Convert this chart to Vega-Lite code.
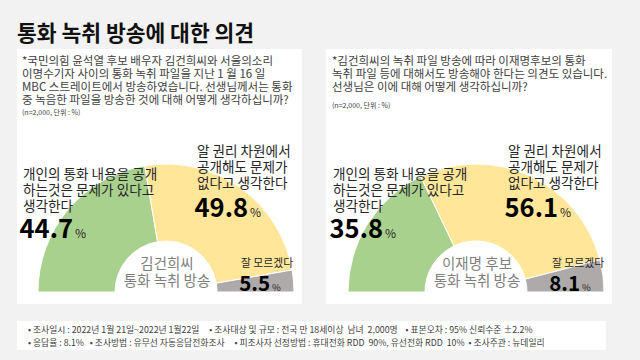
{
  "$schema": "https://vega.github.io/schema/vega-lite/v6.json",
  "background": "#f2f2f2",
  "padding": {"left": 17, "right": 28, "top": 23, "bottom": 14},
  "title": {"text": "통화 녹취 방송에 대한 의견", "anchor": "start", "font": "Noto Sans CJK KR", "fontSize": 21.5, "fontWeight": "bold", "color": "#111111", "offset": -13, "baseline": "alphabetic"},
  "datasets": {
    "results": [
      {"panel": "A", "ord": 1, "cat": "문제 있다", "value": 44.7, "label": "개인의 통화 내용을 공개\n하는것은 문제가 있다고\n생각한다"},
      {"panel": "A", "ord": 2, "cat": "문제 없다", "value": 49.8, "label": "알 권리 차원에서\n공개해도 문제가\n없다고 생각한다"},
      {"panel": "A", "ord": 3, "cat": "잘 모르겠다", "value": 5.5, "label": "잘 모르겠다"},
      {"panel": "B", "ord": 1, "cat": "문제 있다", "value": 35.8, "label": "개인의 통화 내용을 공개\n하는것은 문제가 있다고\n생각한다"},
      {"panel": "B", "ord": 2, "cat": "문제 없다", "value": 56.1, "label": "알 권리 차원에서\n공개해도 문제가\n없다고 생각한다"},
      {"panel": "B", "ord": 3, "cat": "잘 모르겠다", "value": 8.1, "label": "잘 모르겠다"}
    ],
    "questions": [
      {"panel": "A", "question": "*국민의힘 윤석열 후보 배우자 김건희씨와 서울의소리\n이명수기자 사이의 통화 녹취 파일을 지난 1 월 16 일\nMBC 스트레이트에서 방송하였습니다. 선생님께서는 통화\n중 녹음한 파일을 방송한 것에 대해 어떻게 생각하십니까?", "note": "(n=2,000, 단위 : %)", "center": "김건희씨\n통화 녹취 방송"},
      {"panel": "B", "question": "*김건희씨의 녹취 파일 방송에 따라 이재명후보의 통화\n녹취 파일 등에 대해서도 방송해야 한다는 의견도 있습니다.\n선생님은 이에 대해 어떻게 생각하십니까?", "note": "(n=2,000, 단위 : %)", "center": "이재명 후보\n통화 녹취 방송"}
    ],
    "footer": [
      {"line": 1, "text": "• 조사일시 : 2022년 1월 21일~2022년 1월22일\u00a0\u00a0\u00a0\u00a0 • 조사대상 및 규모 : 전국 만 18세이상\u00a0 남녀\u00a0 2,000명\u00a0\u00a0\u00a0 • 표본오차 : 95% 신뢰수준 ±2.2%"},
      {"line": 2, "text": "• 응답율 : 8.1%\u00a0\u00a0 • 조사방법 : 유무선 자동응답전화조사\u00a0\u00a0\u00a0\u00a0 • 피조사자 선정방법 : 휴대전화 RDD\u00a0 90%, 유선전화 RDD\u00a0 10%\u00a0 • 조사주관 : 뉴데일리"}
    ]
  },
  "vconcat": [
    {
      "hconcat": [
        {
          "width": 285, "height": 255,
          "layer": [
            {"data": {"name": "questions"}, "transform": [{"filter": "datum.panel === 'A'"}],
             "mark": {"type": "text", "align": "left", "baseline": "alphabetic", "lineBreak": "\n", "lineHeight": 12.9, "font": "Noto Sans CJK KR", "fontSize": 11.5, "color": "#404040"},
             "encoding": {"x": {"value": 5}, "y": {"value": 16}, "text": {"field": "question"}}},
            {"data": {"name": "questions"}, "transform": [{"filter": "datum.panel === 'A'"}],
             "mark": {"type": "text", "align": "left", "baseline": "alphabetic", "font": "Noto Sans CJK KR", "fontSize": 7, "color": "#404040"},
             "encoding": {"x": {"value": 5}, "y": {"value": 65.5}, "text": {"field": "note"}}},
            {"data": {"name": "results"}, "transform": [{"filter": "datum.panel === 'A'"}],
             "mark": {"type": "arc", "innerRadius": 51, "outerRadius": 128, "stroke": "white", "strokeWidth": 1},
             "encoding": {
               "theta": {"field": "value", "type": "quantitative", "stack": true, "scale": {"domain": [0, 100], "range": [-1.5708, 1.5708]}},
               "color": {"field": "cat", "type": "nominal", "scale": {"domain": ["문제 있다", "문제 없다", "잘 모르겠다"], "range": ["#a9d18e", "#ffe699", "#aeaaaa"]}, "legend": null},
               "order": {"field": "ord", "type": "quantitative"},
               "x": {"value": 149}, "y": {"value": 243}}},
            {"data": {"name": "questions"}, "transform": [{"filter": "datum.panel === 'A'"}],
             "mark": {"type": "text", "align": "center", "baseline": "alphabetic", "lineBreak": "\n", "lineHeight": 17, "font": "Noto Sans CJK KR", "fontSize": 14.5, "color": "#7f7f7f"},
             "encoding": {"x": {"value": 150}, "y": {"value": 220}, "text": {"field": "center"}}},
            {"data": {"name": "results"}, "transform": [{"filter": "datum.panel === 'A'"}],
             "mark": {"type": "text", "align": "left", "baseline": "alphabetic", "lineBreak": "\n", "lineHeight": 16, "font": "Noto Sans CJK KR", "color": "#262626"},
             "encoding": {
               "text": {"field": "label"},
               "x": {"field": "ord", "type": "quantitative", "scale": {"domain": [1, 2, 3], "range": [6, 180, 224], "zero": false, "nice": false}, "axis": null},
               "y": {"field": "ord", "type": "quantitative", "scale": {"domain": [1, 2, 3], "range": [130, 107, 218], "zero": false, "nice": false}, "axis": null},
               "size": {"field": "ord", "type": "quantitative", "scale": {"domain": [1, 2, 3], "range": [13.6, 13.6, 10.8], "zero": false}, "legend": null}}},
            {"data": {"name": "results"}, "transform": [{"filter": "datum.panel === 'A'"}],
             "mark": {"type": "text", "align": "right", "baseline": "alphabetic", "font": "Noto Sans CJK KR", "fontWeight": "bold", "color": "#000000"},
             "encoding": {
               "text": {"field": "value", "format": ".1f"},
               "x": {"field": "ord", "type": "quantitative", "scale": {"domain": [1, 2, 3], "range": [56, 231, 253], "zero": false, "nice": false}, "axis": null},
               "y": {"field": "ord", "type": "quantitative", "scale": {"domain": [1, 2, 3], "range": [189, 168, 242], "zero": false, "nice": false}, "axis": null},
               "size": {"field": "ord", "type": "quantitative", "scale": {"domain": [1, 2, 3], "range": [25.5, 25.5, 20.5], "zero": false}, "legend": null}}},
            {"data": {"name": "results"}, "transform": [{"filter": "datum.panel === 'A'"}],
             "mark": {"type": "text", "align": "left", "baseline": "alphabetic", "font": "Noto Sans CJK KR", "color": "#262626"},
             "encoding": {
               "text": {"value": "%"},
               "x": {"field": "ord", "type": "quantitative", "scale": {"domain": [1, 2, 3], "range": [58, 233, 255], "zero": false, "nice": false}, "axis": null},
               "y": {"field": "ord", "type": "quantitative", "scale": {"domain": [1, 2, 3], "range": [189, 168, 242], "zero": false, "nice": false}, "axis": null},
               "size": {"field": "ord", "type": "quantitative", "scale": {"domain": [1, 2, 3], "range": [12, 12, 9.5], "zero": false}, "legend": null}}}
          ],
          "resolve": {"scale": {"x": "independent", "y": "independent", "size": "independent"}}
        },
        {
          "width": 286, "height": 255,
          "layer": [
            {"data": {"name": "questions"}, "transform": [{"filter": "datum.panel === 'B'"}],
             "mark": {"type": "text", "align": "left", "baseline": "alphabetic", "lineBreak": "\n", "lineHeight": 12.9, "font": "Noto Sans CJK KR", "fontSize": 11.5, "color": "#404040"},
             "encoding": {"x": {"value": 6}, "y": {"value": 16}, "text": {"field": "question"}}},
            {"data": {"name": "questions"}, "transform": [{"filter": "datum.panel === 'B'"}],
             "mark": {"type": "text", "align": "left", "baseline": "alphabetic", "font": "Noto Sans CJK KR", "fontSize": 7, "color": "#404040"},
             "encoding": {"x": {"value": 6}, "y": {"value": 59}, "text": {"field": "note"}}},
            {"data": {"name": "results"}, "transform": [{"filter": "datum.panel === 'B'"}],
             "mark": {"type": "arc", "innerRadius": 51, "outerRadius": 128, "stroke": "white", "strokeWidth": 1},
             "encoding": {
               "theta": {"field": "value", "type": "quantitative", "stack": true, "scale": {"domain": [0, 100], "range": [-1.5708, 1.5708]}},
               "color": {"field": "cat", "type": "nominal", "scale": {"domain": ["문제 있다", "문제 없다", "잘 모르겠다"], "range": ["#a9d18e", "#ffe699", "#aeaaaa"]}, "legend": null},
               "order": {"field": "ord", "type": "quantitative"},
               "x": {"value": 150}, "y": {"value": 243}}},
            {"data": {"name": "questions"}, "transform": [{"filter": "datum.panel === 'B'"}],
             "mark": {"type": "text", "align": "center", "baseline": "alphabetic", "lineBreak": "\n", "lineHeight": 17, "font": "Noto Sans CJK KR", "fontSize": 14.5, "color": "#7f7f7f"},
             "encoding": {"x": {"value": 151}, "y": {"value": 220}, "text": {"field": "center"}}},
            {"data": {"name": "results"}, "transform": [{"filter": "datum.panel === 'B'"}],
             "mark": {"type": "text", "align": "left", "baseline": "alphabetic", "lineBreak": "\n", "lineHeight": 16, "font": "Noto Sans CJK KR", "color": "#262626"},
             "encoding": {
               "text": {"field": "label"},
               "x": {"field": "ord", "type": "quantitative", "scale": {"domain": [1, 2, 3], "range": [7, 182, 226], "zero": false, "nice": false}, "axis": null},
               "y": {"field": "ord", "type": "quantitative", "scale": {"domain": [1, 2, 3], "range": [130, 107, 218], "zero": false, "nice": false}, "axis": null},
               "size": {"field": "ord", "type": "quantitative", "scale": {"domain": [1, 2, 3], "range": [13.6, 13.6, 10.8], "zero": false}, "legend": null}}},
            {"data": {"name": "results"}, "transform": [{"filter": "datum.panel === 'B'"}],
             "mark": {"type": "text", "align": "right", "baseline": "alphabetic", "font": "Noto Sans CJK KR", "fontWeight": "bold", "color": "#000000"},
             "encoding": {
               "text": {"field": "value", "format": ".1f"},
               "x": {"field": "ord", "type": "quantitative", "scale": {"domain": [1, 2, 3], "range": [57, 232, 254], "zero": false, "nice": false}, "axis": null},
               "y": {"field": "ord", "type": "quantitative", "scale": {"domain": [1, 2, 3], "range": [189, 168, 242], "zero": false, "nice": false}, "axis": null},
               "size": {"field": "ord", "type": "quantitative", "scale": {"domain": [1, 2, 3], "range": [25.5, 25.5, 20.5], "zero": false}, "legend": null}}},
            {"data": {"name": "results"}, "transform": [{"filter": "datum.panel === 'B'"}],
             "mark": {"type": "text", "align": "left", "baseline": "alphabetic", "font": "Noto Sans CJK KR", "color": "#262626"},
             "encoding": {
               "text": {"value": "%"},
               "x": {"field": "ord", "type": "quantitative", "scale": {"domain": [1, 2, 3], "range": [59, 234, 256], "zero": false, "nice": false}, "axis": null},
               "y": {"field": "ord", "type": "quantitative", "scale": {"domain": [1, 2, 3], "range": [189, 168, 242], "zero": false, "nice": false}, "axis": null},
               "size": {"field": "ord", "type": "quantitative", "scale": {"domain": [1, 2, 3], "range": [12, 12, 9.5], "zero": false}, "legend": null}}}
          ],
          "resolve": {"scale": {"x": "independent", "y": "independent", "size": "independent"}}
        }
      ],
      "spacing": 24
    },
    {
      "width": 589, "height": 29,
      "data": {"name": "footer"},
      "mark": {"type": "text", "align": "left", "baseline": "middle", "font": "Noto Sans CJK KR", "fontSize": 8.8, "color": "#404040"},
      "encoding": {
        "text": {"field": "text"},
        "x": {"value": 11},
        "y": {"field": "line", "type": "quantitative", "scale": {"domain": [1, 2], "range": [8.5, 21.5], "zero": false, "nice": false}, "axis": null}
      }
    }
  ],
  "spacing": 17,
  "config": {"view": {"stroke": null, "fill": "white"}, "font": "Noto Sans CJK KR"}
}
